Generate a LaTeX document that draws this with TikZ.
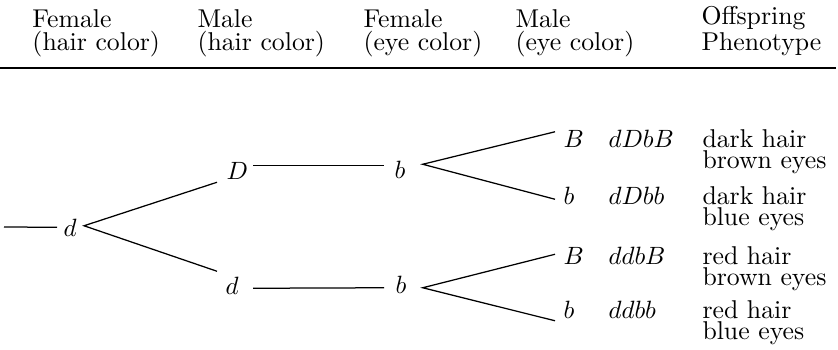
\documentclass[tikz,border=0pt]{standalone}
\usetikzlibrary{calc}
\begin{document}
\begin{tikzpicture}[x=0.4pt,y=-0.4pt,
  hdr/.style={anchor=base west,inner sep=0pt,align=left,font=\fontsize{10.3}{9.2}\selectfont},
  allele/.style={anchor=base west,inner sep=0pt,text height=7pt,text depth=0pt,font=\fontsize{10.3}{12}\selectfont},
  geno/.style={anchor=base west,inner sep=0pt,font=\fontsize{10.3}{12}\selectfont},
  pheno/.style={anchor=base west,inner sep=0pt,align=left,font=\fontsize{10.3}{8.6}\selectfont},
  branch/.style={line width=0.5pt},
  rulebar/.style={line width=0.8pt}]
\useasboundingbox (0,0) rectangle (838,349);

% column headings (placed by the baseline of their last line)
\node[hdr] (h1) at (32,50)  {Female\\(hair color)};
\node[hdr] (h2) at (197,50) {Male\\(hair color)};
\node[hdr] (h3) at (363,50) {Female\\(eye color)};
\node[hdr] (h4) at (515,50) {Male\\(eye color)};
\node[hdr] (h5) at (701,50) {Offspring\\Phenotype};
\coordinate (ruleL) at (0,68);
\coordinate (ruleR) at (836,68);
\draw[rulebar] (ruleL) -- (ruleR);

% female hair allele
\coordinate (start) at (4,227);
\node[allele] (d0) at (63,236) {$d$};

% male hair alleles
\node[allele] (D)  at (226,179) {$D$};
\node[allele] (d1) at (225,294) {$d$};

% female eye alleles
\node[allele] (b1) at (394,178) {$b$};
\node[allele] (b2) at (395,293) {$b$};

% male eye alleles
\node[allele] (B1)  at (563,147) {$B$};
\node[allele] (b11) at (563,204) {$b$};
\node[allele] (B2)  at (563,264) {$B$};
\node[allele] (b21) at (563,318) {$b$};

% offspring genotypes
\node[geno] (g1) at (608,147) {$dDbB$};
\node[geno] (g2) at (608,204) {$dDbb$};
\node[geno] (g3) at (608,264) {$ddbB$};
\node[geno] (g4) at (608,318) {$ddbb$};

% offspring phenotypes (placed by the baseline of their last line)
\node[pheno] (p1) at (702,168.5) {dark hair\\brown eyes};
\node[pheno] (p2) at (702,225.5) {dark hair\\blue eyes};
\node[pheno] (p3) at (702,285.5) {red hair\\brown eyes};
\node[pheno] (p4) at (702,339.5) {red hair\\blue eyes};

% branches
\draw[branch] (start) -- ($(d0.west)+(-6,0)$);
\draw[branch] ($(D.west)+(-9,12)$) -- ($(d0.east)+(7,-1.5)$) -- ($(d1.west)+(-8,-14)$);
\draw[branch] ($(D.east)+(5,-5)$) -- ($(b1.west)+(-10,-4)$);
\draw[branch] ($(d1.east)+(14,3)$) -- ($(b2.west)+(-11,3.5)$);
\draw[branch] ($(B1.west)+(-8,-6.5)$) -- ($(b1.east)+(17,-5)$) -- ($(b11.west)+(-8,4)$);
\draw[branch] ($(B2.west)+(-8,-1)$) -- ($(b2.east)+(16,3.5)$) -- ($(b21.west)+(-8,11.5)$);
\end{tikzpicture}
\end{document}
